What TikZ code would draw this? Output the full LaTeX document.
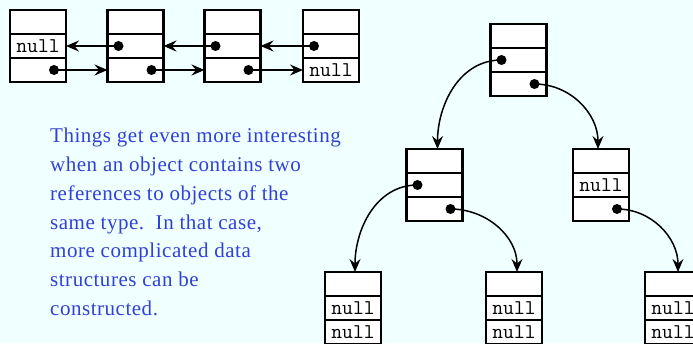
\documentclass[tikz,border=0pt]{standalone}
\usepackage{fontspec}
\setmainfont{Liberation Serif}[LetterSpace=2.5]
\usetikzlibrary{
  arrows.meta,
  positioning
}
\definecolor{refbg}{RGB}{240,255,255}
\definecolor{refblue}{RGB}{48,64,216}
\tikzset{
  refCell/.style={
    rectangle,
    draw=black,
    fill=white,
    line width=2.5pt,
    minimum width=56pt,
    minimum height=24pt,
    inner sep=0pt,
    outer sep=0pt,
    font=\ttfamily\fontsize{21}{21}\selectfont
  },
  refDot/.style={
    circle,
    fill=black,
    inner sep=0pt,
    minimum size=10pt
  },
  refArrow/.style={
    -{Stealth[length=13pt, width=11pt, inset=4.5pt]},
    line width=1.5pt,
    draw=black
  },
  refText/.style={
    anchor=north west,
    inner sep=0pt,
    align=left,
    text=refblue,
    font=\fontsize{21}{28.8}\selectfont
  }
}
% one object: three stacked cells, #2 = centre of the top cell
\newcommand{\objbox}[4]{%
  \node[refCell] (#1-top) at (#2) {};
  \node[refCell, below=0pt of #1-top] (#1-mid) {#3};
  \node[refCell, below=0pt of #1-mid] (#1-bot) {#4};
}

\begin{document}
\begin{tikzpicture}[x=1pt, y=1pt]
  \path[use as bounding box, fill=refbg] (0,0) rectangle (693,343);
  \clip (0,0) rectangle (693,343);

  % doubly linked list
  \objbox{n1}{38,321}{null}{}
  \objbox{n2}{135.5,321}{}{}
  \objbox{n3}{232.5,321}{}{}
  \objbox{n4}{331,321}{}{null}

  \foreach \n in {n2,n3,n4}
    \node[refDot] (\n-mdot) at ([xshift=-17pt]\n-mid.center) {};
  \foreach \n in {n1,n2,n3}
    \node[refDot] (\n-bdot) at ([xshift=16pt]\n-bot.center) {};

  \draw[refArrow] (n2-mdot.center) -- (n1-mid.east);
  \draw[refArrow] (n3-mdot.center) -- (n2-mid.east);
  \draw[refArrow] (n4-mdot.center) -- (n3-mid.east);
  \draw[refArrow] (n1-bdot.center) -- (n2-bot.west);
  \draw[refArrow] (n2-bdot.center) -- (n3-bot.west);
  \draw[refArrow] (n3-bdot.center) -- (n4-bot.west);

  % binary tree
  \objbox{root}{518.5,307}{}{}
  \objbox{lft}{434.5,182}{}{}
  \objbox{rgt}{601,182}{null}{}
  \objbox{leafA}{353,59}{null}{null}
  \objbox{leafB}{514,59}{null}{null}
  \objbox{leafC}{673,59}{null}{null}

  \node[refDot] (root-mdot) at ([xshift=-17pt]root-mid.center) {};
  \node[refDot] (root-bdot) at ([xshift=16pt]root-bot.center) {};
  \node[refDot] (lft-mdot) at ([xshift=-17pt]lft-mid.center) {};
  \node[refDot] (lft-bdot) at ([xshift=16pt]lft-bot.center) {};
  \node[refDot] (rgt-bdot) at ([xshift=16pt]rgt-bot.center) {};

  \draw[refArrow] (root-mdot.center) to[out=180, in=90] ([xshift=3pt]lft-top.north);
  \draw[refArrow] (root-bdot.center) to[out=0, in=90] ([xshift=-3pt]rgt-top.north);
  \draw[refArrow] (lft-mdot.center) to[out=180, in=90] ([xshift=2pt]leafA-top.north);
  \draw[refArrow] (lft-bdot.center) to[out=0, in=90] ([xshift=3pt]leafB-top.north);
  \draw[refArrow] (rgt-bdot.center) to[out=0, in=90] ([xshift=5pt]leafC-top.north);

  \node[refText] (desc) at (50,215)
    {Things get even more interesting\\
     when an object contains two\\
     references to objects of the\\
     same type.\ \ In that case,\\
     more complicated data\\
     structures can be\\
     constructed.};
\end{tikzpicture}
\end{document}
